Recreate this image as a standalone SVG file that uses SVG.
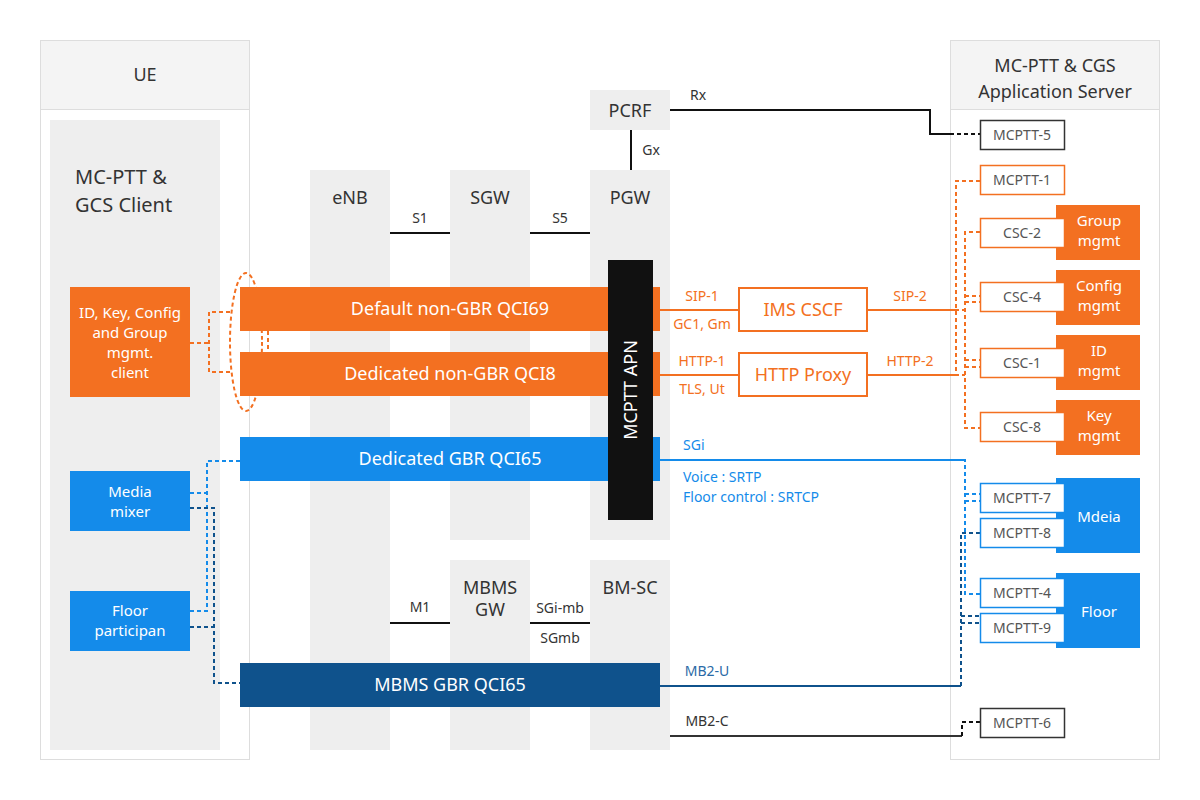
<svg xmlns="http://www.w3.org/2000/svg" width="1200" height="800" viewBox="0 0 1200 800">
<style>
text{font-family:"Noto Sans","Open Sans","DejaVu Sans",sans-serif;}
.frame{fill:#fff;stroke:#dddddd;stroke-width:1}
.hdr{fill:#f4f4f4;stroke:#dddddd;stroke-width:1}
.col{fill:#eeeeee}
.lbl{font-size:18px;fill:#333;text-anchor:middle}
.sm{font-size:14px;fill:#333;text-anchor:middle}
.wt{fill:#fff;text-anchor:middle}
.or{fill:#f37021}
.bl{fill:#148bea}
.db{fill:#0f528c}
.ln{stroke:#111;stroke-width:2;fill:none}
.oln{stroke:#f37021;stroke-width:2;fill:none}
.odash{stroke:#f37021;stroke-width:2;fill:none;stroke-dasharray:4 3}
.bdash{stroke:#148bea;stroke-width:2;fill:none;stroke-dasharray:4 3}
.dbdash{stroke:#0f528c;stroke-width:2;fill:none;stroke-dasharray:4 3}
.kdash{stroke:#111;stroke-width:2;fill:none;stroke-dasharray:4 3}
.port{fill:#fff;stroke-width:1.5}
.pt{font-size:14px;fill:#555;text-anchor:middle}
.otx{font-size:14px;fill:#f37021;text-anchor:middle}
.btx{font-size:14px;fill:#148bea}
</style>
<rect width="1200" height="800" fill="#fff"/>

<g id="ue">
<rect class="frame" x="40.5" y="40.5" width="209" height="719"/>
<rect class="hdr" x="40.5" y="40.5" width="209" height="69"/>
<text class="lbl" x="145" y="81">UE</text>
<rect class="col" x="50" y="120" width="170" height="630"/>
<text x="75" y="184" style="font-size:20px;fill:#333">MC-PTT &amp;</text>
<text x="75" y="212" style="font-size:20px;fill:#333">GCS Client</text>
</g>

<g id="as">
<rect class="frame" x="950.5" y="40.5" width="209" height="719"/>
<rect class="hdr" x="950.5" y="40.5" width="209" height="69"/>
<text class="lbl" x="1055" y="72">MC-PTT &amp; CGS</text>
<text class="lbl" x="1055" y="98">Application Server</text>
</g>

<g id="columns">
<g id="enb"><rect class="col" x="310" y="170" width="80" height="580"/><text class="lbl" x="350" y="204">eNB</text></g>
<g id="sgw"><rect class="col" x="450" y="170" width="80" height="370"/><text class="lbl" x="490" y="204">SGW</text></g>
<g id="pgw"><rect class="col" x="590" y="170" width="80" height="370"/><text class="lbl" x="630" y="204">PGW</text></g>
<g id="pcrf"><rect class="col" x="590" y="90" width="80" height="40"/><text class="lbl" x="630" y="117">PCRF</text></g>
<g id="mbmsgw"><rect class="col" x="450" y="560" width="80" height="190"/><text class="lbl" x="490" y="594">MBMS</text><text class="lbl" x="490" y="616">GW</text></g>
<g id="bmsc"><rect class="col" x="590" y="560" width="80" height="190"/><text class="lbl" x="630" y="594">BM-SC</text></g>
</g>

<g id="connectors">
<!-- core links -->
<line class="ln" x1="390" y1="233" x2="450" y2="233"/>
<text class="sm" x="420" y="223">S1</text>
<line class="ln" x1="530" y1="233" x2="590" y2="233"/>
<text class="sm" x="560" y="223">S5</text>
<line class="ln" x1="631" y1="130" x2="631" y2="170"/>
<text class="sm" x="651" y="155">Gx</text>
<line class="ln" x1="390" y1="623" x2="450" y2="623"/>
<text class="sm" x="420" y="612">M1</text>
<line class="ln" x1="530" y1="623" x2="590" y2="623"/>
<text class="sm" x="560" y="613">SGi-mb</text>
<text class="sm" x="560" y="643">SGmb</text>
<!-- Rx -->
<polyline class="ln" points="670,110 930,110 930,134 950,134"/>
<line class="kdash" x1="950" y1="134" x2="980" y2="134"/>
<text class="sm" x="698" y="100">Rx</text>
<!-- MB2-C -->
<polyline class="ln" points="670,736 962,736" style="stroke:#333"/>
<polyline class="kdash" points="962,736 962,722 980,722"/>
<text x="707" y="726" style="font-size:14px;fill:#333;text-anchor:middle">MB2-C</text>
<!-- MB2-U -->
<line x1="660" y1="686" x2="961" y2="686" style="stroke:#0f528c;stroke-width:2"/>
<polyline class="dbdash" points="961,686 961,533 980,533"/>
<polyline class="dbdash" points="961,616 980,616"/>
<polyline class="dbdash" points="961,623 980,623"/>
<text x="707" y="676" style="font-size:14px;fill:#2a6aa6;text-anchor:middle">MB2-U</text>
<!-- SGi -->
<line x1="653" y1="460" x2="963" y2="460" style="stroke:#148bea;stroke-width:2"/>
<polyline class="bdash" points="963,460 965,460 965,594 980,594"/>
<line class="bdash" x1="965" y1="494" x2="980" y2="494"/>
<line class="bdash" x1="965" y1="501" x2="980" y2="501"/>
<text class="btx" x="683" y="450">SGi</text>
<text class="btx" x="683" y="482">Voice : SRTP</text>
<text class="btx" x="683" y="502">Floor control : SRTCP</text>
<!-- SIP / HTTP -->
<line class="oln" x1="653" y1="310" x2="738" y2="310"/>
<line class="oln" x1="653" y1="375" x2="738" y2="375"/>
<line class="oln" x1="867" y1="310" x2="955" y2="310"/>
<line class="oln" x1="867" y1="375" x2="955" y2="375"/>
<line class="odash" x1="955" y1="310" x2="965" y2="310"/>
<line class="odash" x1="955" y1="375" x2="965" y2="375"/>
<polyline class="odash" points="980,181 956,181 956,375"/>
<polyline class="odash" points="980,232 965,232 965,428 980,428"/>
<line class="odash" x1="965" y1="296" x2="980" y2="296"/>
<line class="odash" x1="965" y1="302" x2="980" y2="302"/>
<line class="odash" x1="965" y1="360" x2="980" y2="360"/>
<line class="odash" x1="965" y1="367" x2="980" y2="367"/>
<text class="otx" x="702" y="301">SIP-1</text>
<text class="otx" x="702" y="329">GC1, Gm</text>
<text class="otx" x="702" y="366">HTTP-1</text>
<text class="otx" x="702" y="394">TLS, Ut</text>
<text class="otx" x="910" y="301">SIP-2</text>
<text class="otx" x="910" y="366">HTTP-2</text>
<!-- UE side -->
<polyline class="odash" points="190,343 209,343"/>
<polyline class="odash" points="230,312 209,312 209,372 230,372"/>
<line class="odash" x1="268" y1="331" x2="268" y2="352"/>
<ellipse class="odash" cx="246" cy="342" rx="16" ry="69"/>
<polyline class="bdash" points="240,461 207,461 207,611 190,611"/>
<line class="bdash" x1="190" y1="493" x2="207" y2="493"/>
<polyline class="dbdash" points="190,508 214,508 214,683 240,683"/>
<line class="dbdash" x1="190" y1="627" x2="214" y2="627"/>
</g>

<g id="client-mgmt">
<rect class="or" x="70" y="287" width="120" height="110"/>
<text class="wt" x="130" y="318" style="font-size:15px">ID, Key, Config</text>
<text class="wt" x="130" y="338" style="font-size:15px">and Group</text>
<text class="wt" x="130" y="358" style="font-size:15px">mgmt.</text>
<text class="wt" x="130" y="378" style="font-size:15px">client</text>
</g>
<g id="media-mixer">
<rect class="bl" x="70" y="471" width="120" height="60"/>
<text class="wt" x="130" y="497" style="font-size:15px">Media</text>
<text class="wt" x="130" y="517" style="font-size:15px">mixer</text>
</g>
<g id="floor-participant">
<rect class="bl" x="70" y="591" width="120" height="60"/>
<text class="wt" x="130" y="616" style="font-size:15px">Floor</text>
<text class="wt" x="130" y="636" style="font-size:15px">participan</text>
</g>

<g id="bearers">
<g id="b-default"><rect class="or" x="240" y="287" width="420" height="44"/><text class="wt" x="450" y="315" style="font-size:18px">Default non-GBR QCI69</text></g>
<g id="b-ded8"><rect class="or" x="240" y="352" width="420" height="44"/><text class="wt" x="450" y="380" style="font-size:18px">Dedicated non-GBR QCI8</text></g>
<g id="b-ded65"><rect class="bl" x="240" y="437" width="420" height="44"/><text class="wt" x="450" y="465" style="font-size:18px">Dedicated GBR QCI65</text></g>
<g id="b-mbms"><rect class="db" x="240" y="663" width="420" height="44"/><text class="wt" x="450" y="691" style="font-size:18px">MBMS GBR QCI65</text></g>
</g>

<g id="apn">
<rect x="608" y="260" width="45" height="260" fill="#111"/>
<text class="wt" transform="translate(637,390) rotate(-90)" style="font-size:18px">MCPTT APN</text>
</g>

<g id="ims-cscf">
<rect x="739" y="288" width="128" height="43" fill="#fff" stroke="#f37021" stroke-width="2"/>
<text x="803" y="316" style="font-size:18px;fill:#f37021;text-anchor:middle">IMS CSCF</text>
</g>
<g id="http-proxy">
<rect x="739" y="353" width="128" height="43" fill="#fff" stroke="#f37021" stroke-width="2"/>
<text x="803" y="381" style="font-size:18px;fill:#f37021;text-anchor:middle">HTTP Proxy</text>
</g>

<g id="mgmt-servers">
<g id="group-mgmt"><rect class="or" x="1056" y="205" width="84" height="55"/><text class="wt" x="1099" y="226" style="font-size:15px">Group</text><text class="wt" x="1099" y="246" style="font-size:15px">mgmt</text></g>
<g id="config-mgmt"><rect class="or" x="1056" y="270" width="84" height="55"/><text class="wt" x="1099" y="291" style="font-size:15px">Config</text><text class="wt" x="1099" y="311" style="font-size:15px">mgmt</text></g>
<g id="id-mgmt"><rect class="or" x="1056" y="335" width="84" height="55"/><text class="wt" x="1099" y="356" style="font-size:15px">ID</text><text class="wt" x="1099" y="376" style="font-size:15px">mgmt</text></g>
<g id="key-mgmt"><rect class="or" x="1056" y="400" width="84" height="55"/><text class="wt" x="1099" y="421" style="font-size:15px">Key</text><text class="wt" x="1099" y="441" style="font-size:15px">mgmt</text></g>
<g id="media-srv"><rect class="bl" x="1056" y="478" width="84" height="75"/><text class="wt" x="1099" y="522" style="font-size:15px">Mdeia</text></g>
<g id="floor-srv"><rect class="bl" x="1056" y="573" width="84" height="75"/><text class="wt" x="1099" y="617" style="font-size:15px">Floor</text></g>
</g>

<g id="ports">
<g id="mcptt-5"><rect class="port" x="980.5" y="120.5" width="84" height="29" stroke="#333"/><text class="pt" x="1022" y="140">MCPTT-5</text></g>
<g id="mcptt-1"><rect class="port" x="980.5" y="165.5" width="84" height="29" stroke="#f37021"/><text class="pt" x="1022" y="185">MCPTT-1</text></g>
<g id="csc-2"><rect class="port" x="980.5" y="218.5" width="84" height="29" stroke="#f37021"/><text class="pt" x="1022" y="238">CSC-2</text></g>
<g id="csc-4"><rect class="port" x="980.5" y="282.5" width="84" height="29" stroke="#f37021"/><text class="pt" x="1022" y="302">CSC-4</text></g>
<g id="csc-1"><rect class="port" x="980.5" y="348.5" width="84" height="29" stroke="#f37021"/><text class="pt" x="1022" y="368">CSC-1</text></g>
<g id="csc-8"><rect class="port" x="980.5" y="412.5" width="84" height="29" stroke="#f37021"/><text class="pt" x="1022" y="432">CSC-8</text></g>
<g id="mcptt-7"><rect class="port" x="980.5" y="483.5" width="84" height="29" stroke="#148bea"/><text class="pt" x="1022" y="503">MCPTT-7</text></g>
<g id="mcptt-8"><rect class="port" x="980.5" y="518.5" width="84" height="29" stroke="#148bea"/><text class="pt" x="1022" y="538">MCPTT-8</text></g>
<g id="mcptt-4"><rect class="port" x="980.5" y="578.5" width="84" height="29" stroke="#148bea"/><text class="pt" x="1022" y="598">MCPTT-4</text></g>
<g id="mcptt-9"><rect class="port" x="980.5" y="613.5" width="84" height="29" stroke="#148bea"/><text class="pt" x="1022" y="633">MCPTT-9</text></g>
<g id="mcptt-6"><rect class="port" x="980.5" y="708.5" width="84" height="29" stroke="#333"/><text class="pt" x="1022" y="728">MCPTT-6</text></g>
</g>
</svg>
